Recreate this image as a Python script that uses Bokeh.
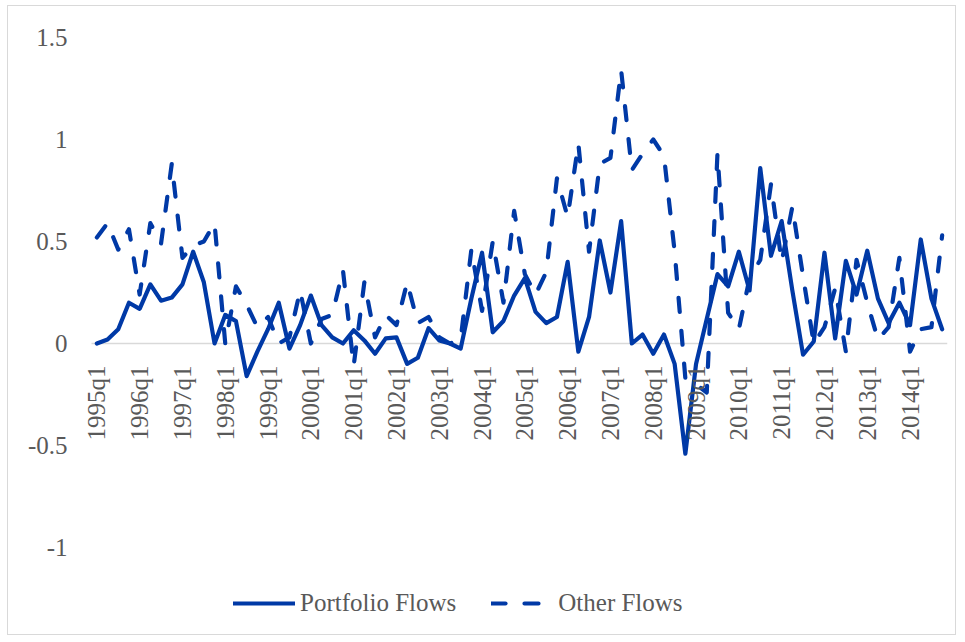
import math
from bokeh.plotting import figure
from bokeh.models import (FixedTicker, NumeralTickFormatter, Legend, LegendItem,
                          Range1d, ColumnDataSource)
from bokeh.core.properties import value
from bokeh.embed import file_html
from bokeh.resources import INLINE

# quarterly categories 1995q1 .. 2014q4
years = list(range(1995, 2015))
quarters = [f"{y}q{q}" for y in years for q in (1, 2, 3, 4)]
tick_labels = [f"{y}q1" for y in years]

portfolio_flows = [
    0.00, 0.02, 0.07, 0.20, 0.17, 0.29, 0.21, 0.225, 0.29, 0.45,
    0.30, 0.00, 0.14, 0.11, -0.16, -0.04, 0.07, 0.20, -0.025, 0.09,
    0.235, 0.09, 0.03, 0.00, 0.065, 0.015, -0.05, 0.025, 0.03, -0.10,
    -0.07, 0.075, 0.015, 0.00, -0.025, 0.22, 0.445, 0.055, 0.11, 0.235,
    0.32, 0.155, 0.10, 0.13, 0.40, -0.04, 0.13, 0.505, 0.25, 0.60,
    0.00, 0.044, -0.05, 0.044, -0.10, -0.54, -0.10, 0.12, 0.34, 0.28,
    0.45, 0.26, 0.86, 0.43, 0.60, 0.26, -0.055, 0.01, 0.445, 0.025,
    0.405, 0.24, 0.455, 0.22, 0.10, 0.20, 0.09, 0.51, 0.22, 0.07,
]

other_flows = [
    0.52, 0.59, 0.46, 0.56, 0.24, 0.59, 0.49, 0.88, 0.42, 0.48,
    0.50, 0.59, 0.00, 0.28, 0.19, 0.08, 0.13, 0.00, 0.03, 0.26,
    0.00, 0.12, 0.14, 0.36, -0.11, 0.30, 0.03, 0.14, 0.09, 0.30,
    0.10, 0.13, 0.03, 0.00, 0.02, 0.46, 0.16, 0.50, 0.20, 0.65,
    0.34, 0.24, 0.35, 0.81, 0.62, 0.98, 0.45, 0.88, 0.91, 1.34,
    0.85, 0.93, 1.00, 0.92, 0.45, -0.17, -0.20, -0.24, 0.93, 0.15,
    0.07, 0.32, 0.41, 0.78, 0.40, 0.67, 0.33, 0.00, 0.08, 0.27,
    -0.04, 0.41, 0.20, 0.02, 0.08, 0.42, -0.04, 0.07, 0.08, 0.53,
]

y_ticks = [-1, -0.5, 0, 0.5, 1, 1.5]

BLUE = "#0039A6"
TEXT = "#595959"
FONT = "Liberation Serif"

n = len(quarters)
idx = list(range(n))
src = ColumnDataSource(dict(x=idx, q=quarters, pf=portfolio_flows, of=other_flows))

tick_idx = [i for i in idx if quarters[i] in tick_labels]
lab_src = ColumnDataSource(dict(x=tick_idx, y=[0] * len(tick_idx),
                                t=[quarters[i] for i in tick_idx]))

W, H = 949, 630
TOP = 31
LEFT = 68
RIGHT = 10
PX_PER_UNIT = 204.0
PX_PER_CAT = 10.7
y_start = 1.5 - (H - TOP) / PX_PER_UNIT        # frame reaches the bottom so the legend sits inside it
x_end = n - 0.5
x_start = x_end - (W - LEFT - RIGHT) / PX_PER_CAT   # a little room left of the first category

p = figure(width=W, height=H,
           x_range=Range1d(x_start, x_end), y_range=Range1d(y_start, 1.5),
           min_border_left=LEFT, min_border_right=RIGHT, min_border_top=TOP, min_border_bottom=0,
           toolbar_location=None, output_backend="svg")
p.styles = {"border": "1px solid #d9d9d9", "margin-left": "7px", "margin-top": "5px"}
p.outline_line_color = None
p.xgrid.visible = False
p.ygrid.visible = False
p.xaxis.visible = False
p.background_fill_color = "white"
p.border_fill_color = "white"

# category axis line at zero, spanning the categories
p.segment(x0=[-0.5], y0=[0], x1=[x_end], y1=[0], line_color="#d9d9d9", line_width=1.5)

r1 = p.line("x", "pf", source=src, line_color=BLUE, line_width=4.2,
            line_join="round", line_cap="round")
r2 = p.line("x", "of", source=src, line_color=BLUE, line_width=4.2,
            line_dash="14 19", line_join="round", line_cap="round")

# category labels under the zero line, rotated
p.text("x", "y", text="t", source=lab_src, angle=math.pi / 2,
       text_align="right", text_baseline="middle", y_offset=22,
       text_font=value(FONT), text_font_size="25px", text_color=TEXT)

# y axis
ya = p.yaxis[0]
ya.ticker = FixedTicker(ticks=y_ticks)
ya.formatter = NumeralTickFormatter(format="0.[0]")
ya.axis_line_color = None
ya.major_tick_line_color = None
ya.minor_tick_line_color = None
ya.major_tick_out = 0
ya.major_tick_in = 0
ya.major_label_standoff = 9
ya.major_label_text_font = FONT
ya.major_label_text_font_size = "25px"
ya.major_label_text_color = TEXT

legend = Legend(items=[LegendItem(label="Portfolio Flows", renderers=[r1]),
                       LegendItem(label="Other Flows", renderers=[r2])],
                location=(157, 18), orientation="horizontal",
                border_line_color=None, background_fill_alpha=0,
                padding=0, margin=0, spacing=35, label_standoff=5,
                glyph_width=62, glyph_height=30, label_height=30,
                label_text_font=FONT, label_text_font_size="25px",
                label_text_color=TEXT)
p.add_layout(legend)

open("out.html", "w").write(file_html(p, INLINE))
